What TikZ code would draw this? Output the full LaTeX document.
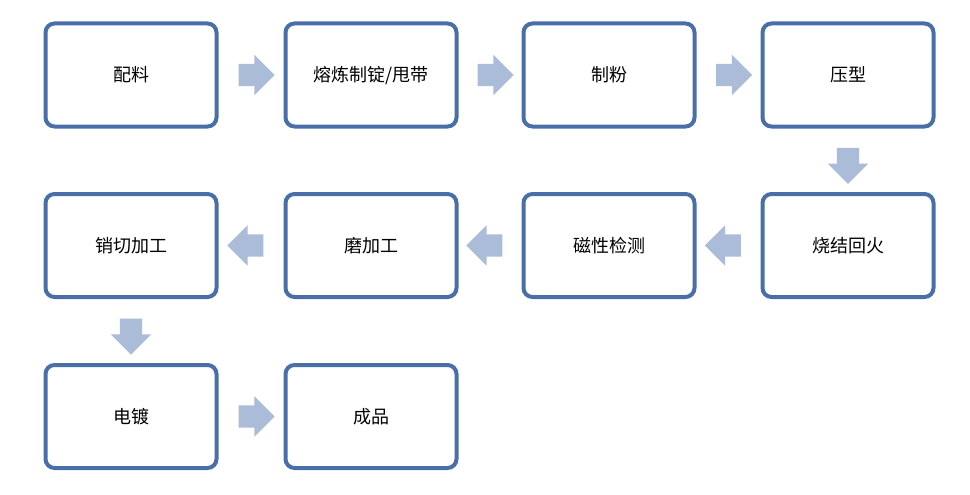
\documentclass[tikz,border=0pt]{standalone}
\usepackage{fontspec}
\setmainfont{Noto Sans CJK SC}
\usetikzlibrary{shapes.arrows,calc}
\definecolor{bord}{HTML}{4A6FA8}
\definecolor{arr}{HTML}{AABCD8}
\tikzset{
 box/.style={draw=bord,line width=4pt,rounded corners=9pt,fill=white,minimum width=171pt,minimum height=103pt,font=\fontsize{18}{21}\selectfont},
 barrow/.style={single arrow,fill=arr,draw=none,minimum height=36pt,single arrow head extend=9pt,inner sep=11pt,single arrow tip angle=90}
}
\begin{document}
\begin{tikzpicture}[x=1pt,y=-1pt]
\useasboundingbox (0,0) rectangle (970,495);
\node[box] (a) at (131,75) {配料};
\node[box] (b) at (371,75) {熔炼制锭/甩带};
\node[box] (c) at (609,75) {制粉};
\node[box] (d) at (848,75) {压型};
\node[box] (e) at (848,245.5) {烧结回火};
\node[box] (f) at (609,245.5) {磁性检测};
\node[box] (g) at (371,245.5) {磨加工};
\node[box] (h) at (131,245.5) {销切加工};
\node[box] (i) at (131,416.5) {电镀};
\node[box] (j) at (371,416.5) {成品};
\foreach \p/\q/\r in {a/b/0,b/c/0,c/d/0,i/j/0,e/f/180,f/g/180,g/h/180}
 \node[barrow,shape border rotate=\r] at ($(\p)!0.5!(\q)$) {};
\node[barrow,shape border rotate=270] at ($(d)!0.5!(e)$) {};
\node[barrow,shape border rotate=270] at ($(h)!0.5!(i)$) {};
\end{tikzpicture}
\end{document}
